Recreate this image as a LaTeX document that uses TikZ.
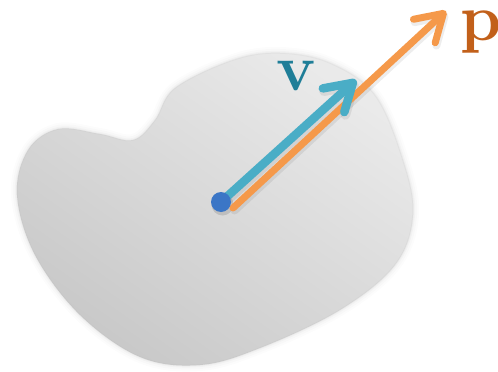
\documentclass[tikz,border=0pt]{standalone}
\usepackage{fontspec}
\usetikzlibrary{arrows.meta}
\definecolor{vblue}{HTML}{4AADC6}
\definecolor{vlab}{HTML}{1F7E98}
\definecolor{porange}{HTML}{F5994A}
\definecolor{plab}{HTML}{C2601A}
\definecolor{dotblue}{HTML}{3B76C6}
\definecolor{blobdark}{HTML}{C8C8C8}
\definecolor{bloblight}{HTML}{EAEAEA}
\begin{document}
\begin{tikzpicture}[x=1pt,y=-1pt,
  vecarrow/.style={line cap=round, -{Straight Barb[length=26pt,width=32pt,round]}},
  shadowarrow/.style={vecarrow, draw=black, opacity=0.07},
  lab/.style={font=\fontsize{66}{66}\selectfont\bfseries, anchor=base, inner sep=0pt}]
\useasboundingbox (0,0) rectangle (498,372);
\def\blobpath{plot[smooth cycle, tension=0.6] coordinates {(58,129) (100,134) (133,140) (155,120) (175,88) (233,60) (280,53) (330,63) (375,95) (403,160) (413,215) (395,265) (340,310) (260,348) (200,365) (140,357) (80,315) (35,255) (17,195) (28,150)}}
% soft halo
\draw[line width=12pt, draw=black!22, opacity=0.05] \blobpath;
\draw[line width=8pt, draw=black!22, opacity=0.08] \blobpath;
\draw[line width=4pt, draw=black!22, opacity=0.12] \blobpath;
\shade[left color=blobdark, right color=bloblight, shading angle=145] \blobpath;
\draw[line width=1.5pt, draw=black!30, opacity=0.12] \blobpath;
% points
\coordinate (o) at (221,202);
\coordinate (os) at (233,208);
\coordinate (ptip) at (446,11);
\coordinate (vtip) at (356,80);
% shadows
\draw[shadowarrow, line width=8pt] ([shift={(1.5,2.5)}]os) -- ([shift={(1.5,2.5)}]ptip);
\draw[shadowarrow, line width=9.5pt] ([shift={(1.5,2.5)}]o) -- ([shift={(1.5,2.5)}]vtip);
\fill[black, opacity=0.12] ([shift={(1.5,2.5)}]o) circle (11pt);
% vectors
\draw[vecarrow, draw=porange, line width=7pt] (os) -- (ptip);
\draw[vecarrow, draw=vblue, line width=8.5pt] (o) -- (vtip);
\node[circle, fill=dotblue, minimum size=20pt, inner sep=0pt] (dot) at (o) {};
% labels
\node[lab, text=vlab] (vl) at (296,90) {v};
\node[lab, text=plab] (pl) at (481,40) {p};
\end{tikzpicture}
\end{document}
